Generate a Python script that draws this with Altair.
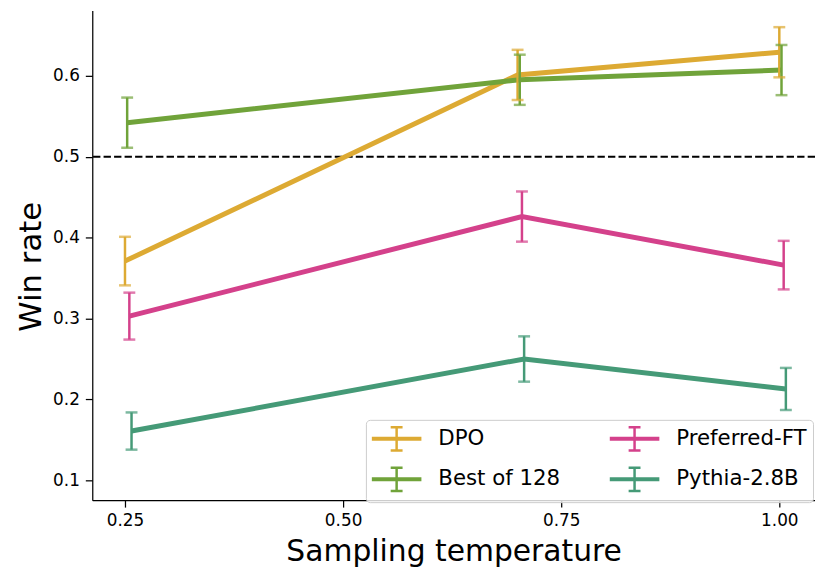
import altair as alt
import pandas as pd

# ---- data ----
series_names = ["DPO", "Best of 128", "Preferred-FT", "Pythia-2.8B"]
series_colors = ["#DDAA33", "#70A33A", "#D4418B", "#459A77"]

dpo_x = [0.25, 0.70, 1.00]
dpo_y = [0.371, 0.601, 0.629]
dpo_err = [0.030, 0.031, 0.031]

best_x = [0.2525, 0.7025, 1.0025]
best_y = [0.542, 0.595, 0.607]
best_err = [0.031, 0.031, 0.031]

pref_x = [0.255, 0.705, 1.005]
pref_y = [0.303, 0.426, 0.366]
pref_err = [0.029, 0.031, 0.030]

pythia_x = [0.2575, 0.7075, 1.0075]
pythia_y = [0.161, 0.250, 0.213]
pythia_err = [0.023, 0.028, 0.026]

x_ticks = [0.25, 0.50, 0.75, 1.00]
y_ticks = [0.1, 0.2, 0.3, 0.4, 0.5, 0.6]
reference_line = [0.5]

x_title = "Sampling temperature"
y_title = "Win rate"

# ---- build table ----
rows = []
for name, xs, ys, es in [
    ("DPO", dpo_x, dpo_y, dpo_err),
    ("Best of 128", best_x, best_y, best_err),
    ("Preferred-FT", pref_x, pref_y, pref_err),
    ("Pythia-2.8B", pythia_x, pythia_y, pythia_err),
]:
    for i, (xv, yv, ev) in enumerate(zip(xs, ys, es)):
        rows.append({"series": name, "i": i,
                     "x": xv, "y": yv, "lo": yv - ev, "hi": yv + ev})
df = pd.DataFrame(rows)

FONT = "DejaVu Sans"
x_scale = alt.Scale(domain=[0.2125, 1.0409], nice=False, zero=False)
y_scale = alt.Scale(domain=[0.0756, 0.6807], nice=False, zero=False)

# legend fills column by column: col 1 = DPO, Best of 128; col 2 = Preferred-FT, Pythia-2.8B
color_scale = alt.Scale(domain=series_names, range=series_colors)

errbar_symbol = ("M-2.128,-0.064H2.128M-2.128,0.064H2.128"
                 "M0,-1V1M-0.51,-1H0.51M-0.51,1H0.51")

legend = alt.Legend(
    title=None, orient="none", legendX=276, legendY=413, columns=2,
    columnPadding=44, rowPadding=7, padding=6,
    symbolType=errbar_symbol, symbolSize=552, symbolStrokeWidth=2.5,
    symbolOffset=12, labelOffset=29, labelFont=FONT, labelFontSize=21.5,
    labelColor="black", strokeColor="#cccccc", cornerRadius=4,
    fillColor="rgba(255,255,255,0.8)",
)

x_enc = alt.X("x:Q", scale=x_scale,
              axis=alt.Axis(values=x_ticks, format=".2f", title=x_title,
                            titleY=61, titleBaseline="alphabetic"))
y_enc = alt.Y("y:Q", scale=y_scale,
              axis=alt.Axis(values=y_ticks, format=".1f", title=y_title,
                            titleX=-52, titleY=258, titleBaseline="alphabetic",
                            titleAngle=270, titleFontSize=31))

base = alt.Chart(df)

lines = base.mark_line(strokeWidth=5).encode(
    x=x_enc, y=y_enc,
    color=alt.Color("series:N", scale=color_scale, legend=legend),
    order="i:Q",
    detail="series:N",
)

bars = base.mark_rule(strokeWidth=2.5).encode(
    x="x:Q", y="lo:Q", y2="hi:Q",
    color=alt.Color("series:N", scale=color_scale, legend=None),
)
caps_lo = base.mark_tick(size=12, thickness=2.5, orient="horizontal").encode(
    x="x:Q", y="lo:Q",
    color=alt.Color("series:N", scale=color_scale, legend=None),
)
caps_hi = base.mark_tick(size=12, thickness=2.5, orient="horizontal").encode(
    x="x:Q", y="hi:Q",
    color=alt.Color("series:N", scale=color_scale, legend=None),
)

hline = alt.Chart(pd.DataFrame({"ref": reference_line})).mark_rule(
    color="black", strokeWidth=2, strokeDash=[7.4, 3.2]
).encode(y="ref:Q")

chart = alt.layer(hline, lines, bars, caps_lo, caps_hi).properties(
    width=729, height=494,
    autosize=alt.AutoSizeParams(type="none"),
    padding={"left": 85, "top": 0, "right": 0, "bottom": 67},
).configure_view(stroke=None).configure_axis(
    grid=False, domainColor="black", domainWidth=1.25, tickColor="black",
    tickWidth=1.25, tickSize=7, labelFont=FONT, labelFontSize=17,
    labelColor="black", labelPadding=6, titleFont=FONT, titleFontSize=30,
    titleFontWeight="normal", titleColor="black",
)

chart.save("out.html", embed_options={"renderer": "svg", "actions": False})
